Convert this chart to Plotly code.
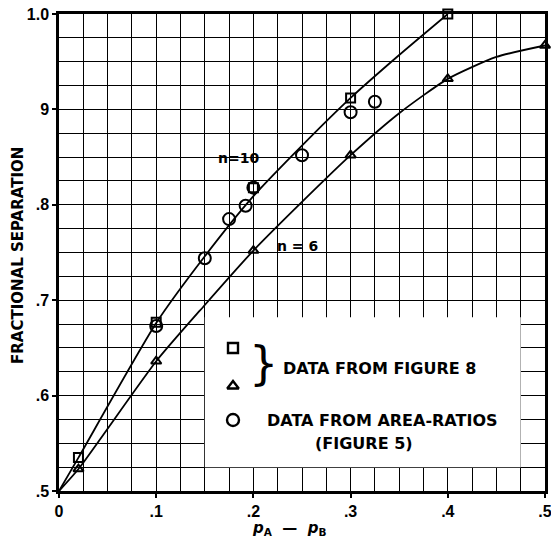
import plotly.graph_objects as go

# ---- data ----
x_tick_vals = [0, 0.1, 0.2, 0.3, 0.4, 0.5]
x_tick_text = ["0", ".1", ".2", ".3", ".4", ".5"]
y_tick_vals = [0.5, 0.6, 0.7, 0.8, 0.9, 1.0]
y_tick_text = [".5", ".6", ".7", ".8", "9", "1.0"]

# fitted curves
n10_curve_x = [0, 0.02, 0.1, 0.15, 0.2, 0.25, 0.3, 0.35, 0.4]
n10_curve_y = [0.5, 0.535, 0.676, 0.746, 0.809, 0.862, 0.912, 0.957, 1.0]
n6_curve_x = [0, 0.02, 0.1, 0.15, 0.2, 0.25, 0.3, 0.35, 0.4, 0.45, 0.5]
n6_curve_y = [0.5, 0.523, 0.636, 0.695, 0.752, 0.803, 0.852, 0.896, 0.932, 0.955, 0.967]

# data from figure 8
square_x = [0.02, 0.1, 0.2, 0.3, 0.4]
square_y = [0.535, 0.677, 0.818, 0.912, 1.0]
triangle_x = [0.02, 0.1, 0.2, 0.3, 0.4, 0.5]
triangle_y = [0.523, 0.636, 0.752, 0.852, 0.932, 0.967]

# data from area-ratios
circle_x = [0.1, 0.15, 0.175, 0.192, 0.2, 0.25, 0.3, 0.325]
circle_y = [0.673, 0.744, 0.785, 0.799, 0.818, 0.852, 0.897, 0.908]

FONT = "DejaVu Sans"
TICKFONT = "Liberation Sans"

W, H = 551, 538
ml, mr, mt, mb = 59, 6, 14, 47

fig = go.Figure()

line_style = dict(color="black", width=1.8, shape="spline", smoothing=0.6)
fig.add_trace(go.Scatter(x=n10_curve_x, y=n10_curve_y, mode="lines", line=line_style,
                         showlegend=False, hoverinfo="skip", cliponaxis=False))
fig.add_trace(go.Scatter(x=n6_curve_x, y=n6_curve_y, mode="lines", line=line_style,
                         showlegend=False, hoverinfo="skip", cliponaxis=False))

fig.add_trace(go.Scatter(x=square_x, y=square_y, mode="markers",
                         marker=dict(symbol="square-open", size=9, color="black",
                                     line=dict(width=2, color="black")),
                         showlegend=False, cliponaxis=False))
fig.add_trace(go.Scatter(x=triangle_x, y=triangle_y, mode="markers",
                         marker=dict(symbol="triangle-up-open", size=9, color="black",
                                     line=dict(width=2, color="black")),
                         showlegend=False, cliponaxis=False))
fig.add_trace(go.Scatter(x=circle_x, y=circle_y, mode="markers",
                         marker=dict(symbol="circle-open", size=12, color="black",
                                     line=dict(width=2, color="black")),
                         showlegend=False, cliponaxis=False))

# white legend box covering the grid
fig.add_shape(type="rect", xref="x", yref="y", x0=0.15, x1=0.475, y0=0.525, y1=0.682,
              fillcolor="white", line=dict(width=0), layer="between")


def px2x(p):
    return (p - ml) / (W - ml - mr) * 0.5


def px2y(p):
    return 0.5 + (H - mb - p) / (H - mt - mb) * 0.5


fig.add_trace(go.Scatter(x=[px2x(233)], y=[px2y(348)], mode="markers",
                         marker=dict(symbol="square-open", size=10, color="black",
                                     line=dict(width=2.4, color="black")),
                         showlegend=False, hoverinfo="skip"))
fig.add_trace(go.Scatter(x=[px2x(233)], y=[px2y(386)], mode="markers",
                         marker=dict(symbol="triangle-up-open", size=10, color="black",
                                     line=dict(width=2.4, color="black")),
                         showlegend=False, hoverinfo="skip"))
fig.add_trace(go.Scatter(x=[px2x(233)], y=[px2y(420)], mode="markers",
                         marker=dict(symbol="circle-open", size=12, color="black",
                                     line=dict(width=2.4, color="black")),
                         showlegend=False, hoverinfo="skip"))

txt = dict(family=FONT, size=16, color="black")
annots = [
    dict(x=px2x(263), y=px2y(363), text="}", font=dict(family="DejaVu Sans", size=46, color="black"),
         xanchor="center", yanchor="middle"),
    dict(x=px2x(281), y=px2y(368), text="<b>DATA FROM FIGURE 8</b>", font=txt,
         xanchor="left", yanchor="middle"),
    dict(x=px2x(265), y=px2y(420), text="<b>DATA FROM AREA-RATIOS</b>", font=txt,
         xanchor="left", yanchor="middle"),
    dict(x=px2x(364), y=px2y(443), text="<b>(FIGURE 5)</b>", font=txt,
         xanchor="center", yanchor="middle"),
    dict(x=px2x(238), y=px2y(158), text="<b>n=10</b>", font=dict(family=FONT, size=14, color="black"),
         xanchor="center", yanchor="middle"),
    dict(x=px2x(297), y=px2y(246), text="<b>n = 6</b>", font=dict(family=FONT, size=14, color="black"),
         xanchor="center", yanchor="middle"),
]
for a in annots:
    a.update(xref="x", yref="y", showarrow=False)
    fig.add_annotation(**a)


def paper_x(p):
    return (p - ml) / (W - ml - mr)


def paper_y(p):
    return 1 - (p - mt) / (H - mt - mb)


fig.add_annotation(x=paper_x(18), y=paper_y(256), xref="paper", yref="paper",
                   text="<b>FRACTIONAL SEPARATION</b>", textangle=-90, showarrow=False,
                   xanchor="center", yanchor="middle",
                   font=dict(family=FONT, size=15, color="black"))
fig.add_annotation(x=paper_x(289), y=paper_y(540), xref="paper", yref="paper",
                   text="<b><i>p</i><sub>A</sub>  —  <i>p</i><sub>B</sub></b>",
                   showarrow=False, xanchor="center", yanchor="bottom",
                   font=dict(family=FONT, size=15, color="black"))

axis_common = dict(
    showgrid=True, gridcolor="black", gridwidth=1.3,
    showline=True, linecolor="black", linewidth=2.5, mirror=True,
    ticks="outside", ticklen=4, tickwidth=1.5, tickcolor="black",
    tickfont=dict(family=TICKFONT, size=16, color="black"),
    ticklabeloverflow="allow",
    zeroline=False, automargin=False,
    minor=dict(dtick=0.025, showgrid=True, gridcolor="black", gridwidth=1.3, ticks=""),
)

fig.update_xaxes(range=[0, 0.5], tickvals=x_tick_vals, ticktext=[f"<b>{t}</b>" for t in x_tick_text],
                 tick0=0, **axis_common)
fig.update_yaxes(range=[0.5, 1.0], tickvals=y_tick_vals, ticktext=[f"<b>{t}</b>" for t in y_tick_text],
                 tick0=0.5, **axis_common)

fig.update_layout(
    width=W, height=H,
    margin=dict(l=ml, r=mr, t=mt, b=mb, autoexpand=False),
    paper_bgcolor="white", plot_bgcolor="white",
    showlegend=False,
)

fig.write_html("out.html", config={"displayModeBar": False},
               post_script="document.body.style.margin='0';document.body.style.overflow='hidden';")
